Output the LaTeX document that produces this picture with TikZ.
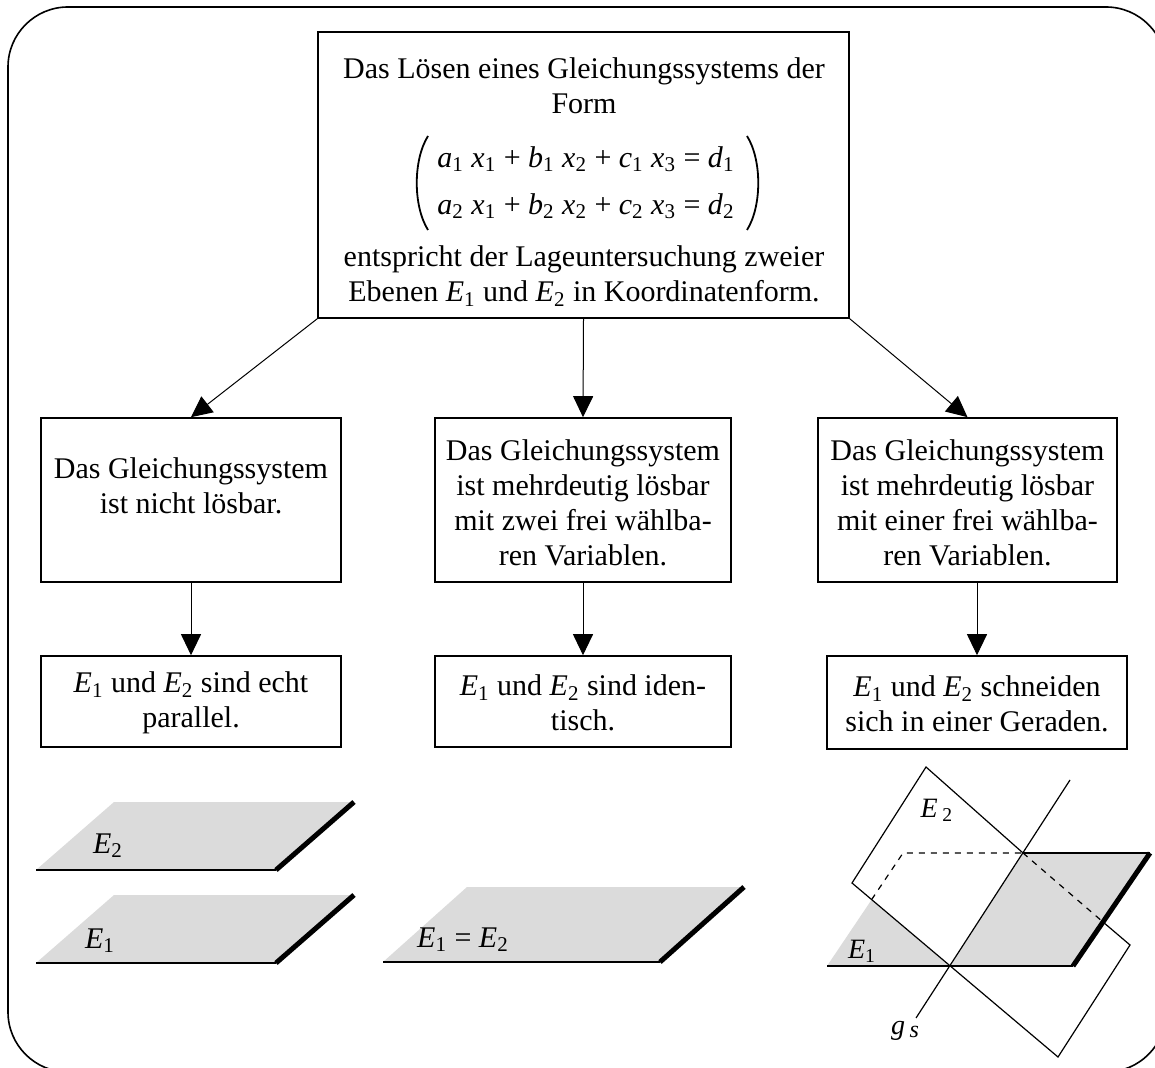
\documentclass[tikz,border=0pt]{standalone}
\usepackage{fontspec}
\setmainfont{Liberation Serif}
\usetikzlibrary{arrows.meta}
\newcommand\Eb[1]{\textit{E}\textsubscript{#1}}
\newcommand\sv[2]{\textit{#1}\textsubscript{#2}}
\begin{document}
\begin{tikzpicture}[x=0.5pt,y=-0.5pt,
  box/.style={draw,line width=0.8pt,inner sep=0pt},
  txt/.style={align=center,font=\fontsize{15}{17.5}\selectfont,inner sep=0pt},
  eqtxt/.style={align=center,font=\fontsize{15}{23.5}\selectfont,inner sep=0pt},
  lbl/.style={font=\fontsize{14}{16}\selectfont,inner sep=0pt},
  arr/.style={line width=0.5pt,-{Triangle[length=10.5pt,width=10pt]}},
  paren/.style={line width=0.9pt},
  plane/.style={fill=black!14},
  edge/.style={line width=1pt},
  thick edge/.style={line width=2.5pt},
  thin/.style={line width=0.6pt}]
\useasboundingbox (0,0) rectangle (1155,1068);
% outer frame
\draw[line width=0.8pt,rounded corners=30pt] (8,7) rectangle (1166,1072);

% top box
\node[box,minimum width=265.5pt,minimum height=143pt] (top) at (583.5,175) {};
\node[txt] (t1) at (584,86) {Das Lösen eines Gleichungssystems der\\Form};
\node[eqtxt] (eq) at (586,183) {\sv{a}{1} \sv{x}{1} + \sv{b}{1} \sv{x}{2} + \sv{c}{1} \sv{x}{3} = \sv{d}{1}\\
  \sv{a}{2} \sv{x}{1} + \sv{b}{2} \sv{x}{2} + \sv{c}{2} \sv{x}{3} = \sv{d}{2}};
\draw[paren] (428,136) .. controls (413,160) and (413,206) .. (428,230);
\draw[paren] (747,136) .. controls (762,160) and (762,206) .. (747,230);
\node[txt] (t3) at (584,276) {entspricht der Lageuntersuchung zweier\\Ebenen \Eb{1} und \Eb{2} in Koordinatenform.};

% middle boxes
\node[box,minimum width=150pt,minimum height=82pt] (m1) at (191,500) {};
\node[txt] (m1t) at (191,486) {Das Gleichungssystem\\ist nicht lösbar.};
\node[box,minimum width=148pt,minimum height=82pt] (m2) at (583,500) {};
\node[txt] (m2t) at (583,503) {Das Gleichungssystem\\ist mehrdeutig lösbar\\mit zwei frei wählba-\\ren Variablen.};
\node[box,minimum width=149.5pt,minimum height=82pt] (m3) at (967.5,500) {};
\node[txt] (m3t) at (967.5,503) {Das Gleichungssystem\\ist mehrdeutig lösbar\\mit einer frei wählba-\\ren Variablen.};

% bottom boxes
\node[box,minimum width=150pt,minimum height=45.5pt] (b1) at (191,701.5) {};
\node[txt] (b1t) at (191,703) {\Eb{1} und \Eb{2} sind echt\\parallel.};
\node[box,minimum width=148pt,minimum height=45.5pt] (b2) at (583,701.5) {};
\node[txt] (b2t) at (583,703) {\Eb{1} und \Eb{2} sind iden-\\tisch.};
\node[box,minimum width=150pt,minimum height=46.5pt] (b3) at (977,702.5) {};
\node[txt] (b3t) at (977,704) {\Eb{1} und \Eb{2} schneiden\\sich in einer Geraden.};

% connectors
\draw[arr] (top.south west) -- (m1.north);
\draw[arr] (top.south) -- (m2.north);
\draw[arr] (top.south east) -- (m3.north);
\draw[arr] (m1.south) -- (b1.north);
\draw[arr] (m2.south) -- (b2.north);
\draw[arr] (b3.north |- m3.south) -- (b3.north);

% left planes
\fill[plane] (36,870) -- (276,870) -- (354,802) -- (114,802) -- cycle;
\draw[edge] (36,870) -- (276,870);
\draw[thick edge] (276,870) -- (354,802);
\node[txt] (lE2) at (108,846) {\Eb{2}};
\fill[plane] (36,963) -- (276,963) -- (354,895) -- (114,895) -- cycle;
\draw[edge] (36,963) -- (276,963);
\draw[thick edge] (276,963) -- (354,895);
\node[txt] (lE1) at (100,941) {\Eb{1}};

% middle plane
\fill[plane] (383,962) -- (660,962) -- (744,887) -- (467,887) -- cycle;
\draw[edge] (383,962) -- (660,962);
\draw[thick edge] (660,962) -- (744,887);
\node[txt] (mE) at (463,940) {\Eb{1} = \Eb{2}};

% right figure: intersecting planes
\coordinate (P1) at (827,966);
\coordinate (P2) at (1073,966);
\coordinate (P3) at (1150,853);
\coordinate (P4) at (903,853);
\coordinate (H1) at (871.6,899.6);
\coordinate (S1) at (950,966);
\coordinate (S2) at (1023,853);
\coordinate (C) at (1103,922);
\coordinate (T) at (926,767);
\coordinate (R) at (1130,945);
\coordinate (B) at (1058,1057);
\coordinate (L) at (852,883);
\coordinate (G1) at (916,1018);
\coordinate (G2) at (1070,780);
\fill[plane] (P1) -- (P2) -- (P3) -- (P4) -- cycle;
\fill[white] (H1) -- (S1) -- (S2) -- (P4) -- cycle;
\draw[edge] (P1) -- (P2);
\draw[thick edge] (P2) -- (P3);
\draw[thin] (S2) -- (P3);
\draw[thin,dashed] (H1) -- (P4) -- (S2);
\draw[thin] (C) -- (R) -- (B) -- (L) -- (T) -- (S2);
\draw[thin,dashed] (S2) -- (C);
\draw[thin] (G1) -- (G2);
\node[lbl] (rE2) at (937,810) {\textit{E}\,\textsubscript{2}};
\node[lbl] (rE1) at (862,951) {\textit{E}\textsubscript{1}};
\node[lbl] (rg) at (905,1031) {\textit{g}\,\raisebox{-0.2ex}{\fontsize{12}{14}\selectfont\textit{s}}};
\end{tikzpicture}
\end{document}
